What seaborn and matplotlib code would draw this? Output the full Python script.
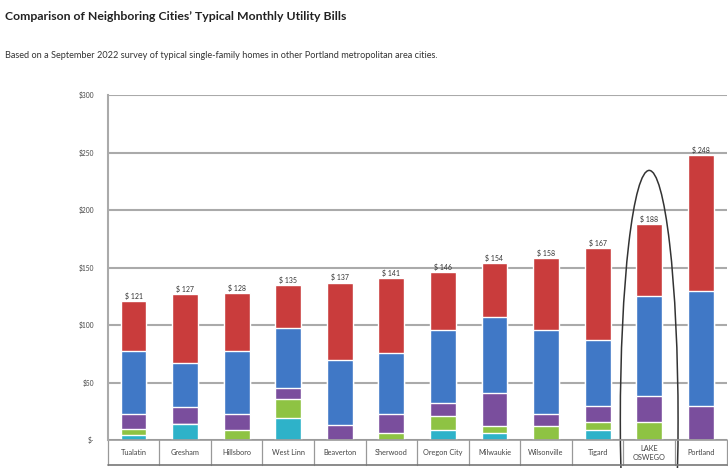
import numpy as np
import pandas as pd
import matplotlib
matplotlib.use("Agg")
import matplotlib.pyplot as plt
from matplotlib.patches import Ellipse
import seaborn as sns

# Chart data
cities = ["Tualatin", "Gresham", "Hillsboro", "West Linn", "Beaverton", "Sherwood",
          "Oregon City", "Milwaukie", "Wilsonville", "Tigard", "LAKE\nOSWEGO", "Portland"]
totals = [121, 127, 128, 135, 137, 141, 146, 154, 158, 167, 188, 248]
cyan = [4, 14, 0, 19, 0, 0, 9, 6, 0, 9, 0, 0]
green = [6, 0, 9, 17, 0, 6, 12, 6, 12, 7, 16, 0]
purple = [13, 15, 14, 9, 13, 17, 11, 29, 11, 14, 22, 30]
blue = [54, 38, 54, 52, 57, 53, 64, 66, 73, 57, 87, 100]
red = [44, 60, 51, 38, 67, 65, 50, 47, 62, 80, 63, 118]
y_ticks = [0, 50, 100, 150, 200, 250, 300]
y_tick_labels = ["$-", "$50", "$100", "$150", "$200", "$250", "$300"]

sns.set_style("white")
plt.rcParams["font.family"] = ["Lato", "DejaVu Sans"]

# stack by overdrawing cumulative totals, tallest first
df = pd.DataFrame({"city": cities, "cyan": cyan, "green": green,
                   "purple": purple, "blue": blue, "red": red})
layers = ["cyan", "green", "purple", "blue", "red"]
colors = {"cyan": "#2eb2c9", "green": "#8ec343", "purple": "#7a4e9d",
          "blue": "#4078c6", "red": "#c93c3c"}
cum = df[layers].cumsum(axis=1)

fig = plt.figure(figsize=(7.28, 4.68), dpi=100)
ax = fig.add_axes([0.148, 0.0598, 0.85, 0.737])

for layer in reversed(layers):
    sns.barplot(x=df["city"], y=cum[layer], color=colors[layer], width=0.5,
                saturation=1, ax=ax, order=cities)

ax.set_xlim(-0.5, 11.5)
ax.set_ylim(0, 300)
ax.set_yticks(y_ticks)
ax.set_yticklabels(y_tick_labels, fontsize=4.8, color="#444444")
ax.yaxis.grid(True, color="#aaaaaa", linewidth=1.5)
ax.set_axisbelow(True)
ax.tick_params(axis="y", length=0, pad=10)
ax.set_xticks([])
ax.set_xlabel("")
ax.set_ylabel("")
for side in ["top", "right", "bottom"]:
    ax.spines[side].set_visible(False)
ax.spines["left"].set_color("#aaaaaa")
ax.spines["left"].set_linewidth(1.5)

# value labels over bars
for i, t in enumerate(totals):
    ax.text(i, cum["red"][i] + 1, f"$ {t}", ha="center", va="bottom",
            fontsize=5, color="#333333")

# category "table" under the axis
cell_h = 22
for b in np.arange(-0.5, 12, 1):
    ax.plot([b, b], [0, -cell_h], color="#999999", linewidth=0.9, clip_on=False)
ax.plot([-0.5, 11.5], [0, 0], color="#999999", linewidth=1.2, clip_on=False)
ax.plot([-0.5, 11.5], [-cell_h, -cell_h], color="#777777", linewidth=1.2, clip_on=False)
for i, c in enumerate(cities):
    ax.text(i, -cell_h / 2, c, ha="center", va="center", fontsize=5.3,
            color="#444444", linespacing=1.3)

# circle around Lake Oswego
ell = Ellipse((10, 17), width=1.12, height=435, transform=ax.transData,
              fill=False, edgecolor="#333333", linewidth=1.1, clip_on=False)
ax.add_patch(ell)

fig.text(0.007, 0.965, "Comparison of Neighboring Cities\u2019 Typical Monthly Utility Bills",
         fontsize=8.8, fontweight="bold", color="#222222", va="center")
fig.text(0.007, 0.882, "Based on a September 2022 survey of typical single-family homes in other "
         "Portland metropolitan area cities.", fontsize=6.6, color="#333333", va="center")

fig.savefig("out.png", dpi=100)
